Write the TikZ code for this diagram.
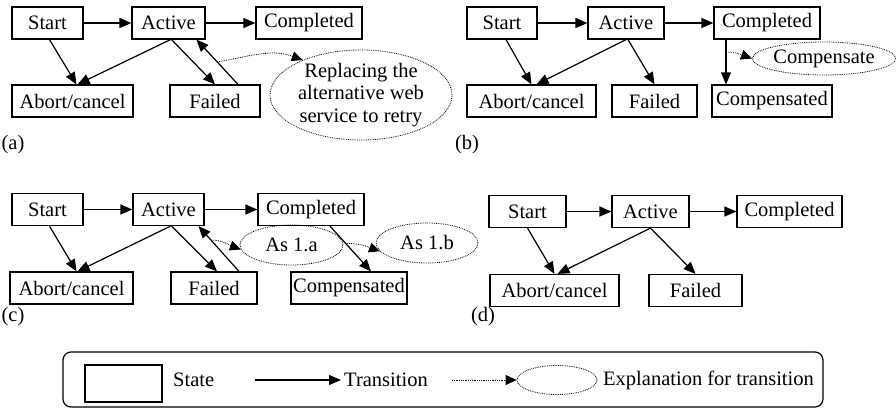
\documentclass[tikz,border=0pt]{standalone}
\usepackage{fontspec}
\setmainfont{Liberation Serif}
\usetikzlibrary{arrows.meta,shapes.geometric}

\begin{document}
\begin{tikzpicture}[
  x=1pt, y=1pt,
  font=\fontsize{20.5}{22.5}\selectfont,
  state/.style={rectangle, draw, line width=1.2pt, minimum height=32pt, inner sep=0pt},
  expl/.style={ellipse, draw, densely dotted, line width=0.8pt, inner sep=0pt, align=center},
  trans/.style={-{Triangle[length=12pt,width=10pt]}, line width=1.2pt},
  hint/.style={-{Triangle[length=11pt,width=10pt]}, densely dotted, line width=0.8pt},
  panel/.style={inner sep=0pt}
]
\useasboundingbox (0,0) rectangle (896,408);

% (a) failed service is retried
\node[state, minimum width=71pt] (StartA) at (47.5,385) {Start};
\node[state, minimum width=73pt] (ActiveA) at (168.5,385) {Active};
\node[state, minimum width=106pt] (CompletedA) at (309,385) {Completed};
\node[state, minimum width=121pt] (AbortA) at (72.5,307) {Abort/cancel};
\node[state, minimum width=90pt] (FailedA) at (215,307) {Failed};
\node[expl, minimum width=182pt, minimum height=84pt] (RetryA) at (361,313) {Replacing the\\alternative web\\service to retry};
\node[panel] (LabelA) at (13,263) {(a)};

\draw[trans] (StartA) -- (ActiveA);
\draw[trans] (ActiveA) -- (CompletedA);
\draw[trans] ([xshift=2pt]StartA.south) -- ([xshift=4pt]AbortA.north);
\draw[trans] ([xshift=2pt]ActiveA.south) -- ([xshift=5pt]AbortA.north);
\draw[trans] ([xshift=3pt]ActiveA.south) -- (FailedA.north);
\draw[trans] ([xshift=23pt]FailedA.north) -- coordinate[pos=0.5] (BackA) ([xshift=28pt]ActiveA.south);
\draw[hint] (BackA) to[out=10, in=160] (RetryA.149);

% (b) completed work is compensated
\node[state, minimum width=70pt] (StartB) at (502,385) {Start};
\node[state, minimum width=76pt] (ActiveB) at (626,385) {Active};
\node[state, minimum width=106pt] (CompletedB) at (767,385) {Completed};
\node[state, minimum width=129pt] (AbortB) at (531.5,307) {Abort/cancel};
\node[state, minimum width=85pt] (FailedB) at (654.5,307) {Failed};
\node[state, minimum width=120pt] (CompensatedB) at (772,307) {Compensated};
\node[expl, minimum width=142pt, minimum height=33pt] (CompenseB) at (824,349.5) {Compensate};
\node[panel] (LabelB) at (467,263) {(b)};

\draw[trans] (StartB) -- (ActiveB);
\draw[trans] (ActiveB) -- (CompletedB);
\draw[trans] ([xshift=4pt]StartB.south) -- (AbortB.north);
\draw[trans] (ActiveB.south) -- ([xshift=5pt]AbortB.north);
\draw[trans] ([xshift=2pt]ActiveB.south) -- (FailedB.north);
\draw[trans] ([xshift=-41pt]CompletedB.south) -- coordinate[pos=0.28] (UndoB) ([xshift=-46pt]CompensatedB.north);
\draw[hint] (UndoB) to[out=0, in=160] (CompenseB.west);

% (c) retry and compensation together
\node[state, minimum width=71pt] (StartC) at (47.5,198.5) {Start};
\node[state, minimum width=71pt] (ActiveC) at (168.5,198.5) {Active};
\node[state, minimum width=106pt] (CompletedC) at (311,198.5) {Completed};
\node[state, minimum width=123pt] (AbortC) at (71.5,120) {Abort/cancel};
\node[state, minimum width=86pt] (FailedC) at (214,120) {Failed};
\node[state, minimum width=116pt] (CompensatedC) at (349,120) {Compensated};
\node[expl, minimum width=103pt, minimum height=40pt] (AsA) at (291.5,163) {As 1.a};
\node[expl, minimum width=102pt, minimum height=40pt] (AsB) at (427,165) {As 1.b};
\node[panel] (LabelC) at (13,91) {(c)};

\draw[trans] (StartC) -- (ActiveC);
\draw[trans] (ActiveC) -- (CompletedC);
\draw[trans] ([xshift=2pt]StartC.south) -- ([xshift=5pt]AbortC.north);
\draw[trans] ([xshift=2pt]ActiveC.south) -- ([xshift=6pt]AbortC.north);
\draw[trans] ([xshift=3pt]ActiveC.south) -- ([xshift=3pt]FailedC.north);
\draw[trans] ([xshift=25pt]FailedC.north) -- coordinate[pos=0.69] (BackC) ([xshift=30pt]ActiveC.south);
\draw[trans] ([xshift=19pt]CompletedC.south) -- coordinate[pos=0.38] (UndoC) ([xshift=22pt]CompensatedC.north);
\draw[hint] (BackC) to[out=0, in=160] (AsA.185);
\draw[hint] (UndoC) to[out=0, in=160] (AsB.190);

% (d) plain life cycle
\node[state, minimum width=77pt] (StartD) at (527.5,196.5) {Start};
\node[state, minimum width=77pt] (ActiveD) at (650.5,196.5) {Active};
\node[state, minimum width=105pt] (CompletedD) at (789.5,196.5) {Completed};
\node[state, minimum width=129pt] (AbortD) at (554.5,117.5) {Abort/cancel};
\node[state, minimum width=93pt] (FailedD) at (695.5,117.5) {Failed};
\node[panel] (LabelD) at (483,91) {(d)};

\draw[trans] (StartD) -- (ActiveD);
\draw[trans] (ActiveD) -- (CompletedD);
\draw[trans] (StartD.south) -- (AbortD.north);
\draw[trans] (ActiveD.south) -- ([xshift=3pt]AbortD.north);
\draw[trans] (ActiveD.south) -- (FailedD.north);

% legend
\node[draw, rounded corners=8pt, line width=1.2pt, minimum width=760pt, minimum height=55pt] (Legend) at (443,28.5) {};
\node[state, minimum width=77pt, minimum height=37pt] (LegState) at (123.5,24.5) {};
\node[panel, anchor=west] (LegStateTxt) at (173,28) {State};
\coordinate (LegTransL) at (255,28);
\coordinate (LegTransR) at (341,28);
\draw[trans] (LegTransL) -- (LegTransR);
\node[panel, anchor=west] (LegTransTxt) at (344,28) {Transition};
\coordinate (LegHintL) at (452,28);
\node[expl, minimum width=80pt, minimum height=29pt] (LegExpl) at (557,28) {};
\draw[hint] (LegHintL) -- (LegExpl);
\node[panel, anchor=west] (LegExplTxt) at (603,28) {Explanation for transition};

\end{tikzpicture}
\end{document}
